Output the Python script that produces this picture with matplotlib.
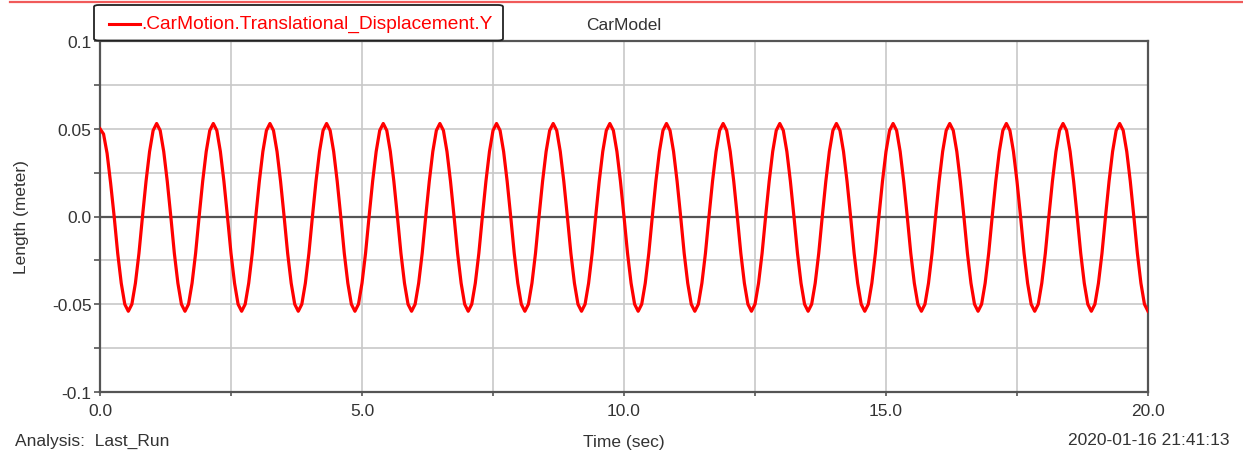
import numpy as np
import matplotlib.pyplot as plt
from matplotlib.lines import Line2D
from matplotlib.patches import FancyBboxPatch
from matplotlib.ticker import MultipleLocator

plt.rcParams['font.family'] = ['Liberation Sans', 'DejaVu Sans']

# CarMotion.Translational_Displacement.Y (16 samples per cycle, 0..20 s)
disp_y = [
    0.050, 0.047, 0.036, 0.019, 0.000, -0.021, -0.038, -0.050, -0.054, -0.050, -0.038, -0.021, 0.000, 0.020, 0.037, 0.049,
    0.053, 0.049, 0.037, 0.020, 0.000, -0.021, -0.038, -0.050, -0.054, -0.050, -0.038, -0.021, 0.000, 0.020, 0.037, 0.049,
    0.053, 0.049, 0.037, 0.020, 0.000, -0.021, -0.038, -0.050, -0.054, -0.050, -0.038, -0.021, 0.000, 0.020, 0.037, 0.049,
    0.053, 0.049, 0.037, 0.020, 0.000, -0.021, -0.038, -0.050, -0.054, -0.050, -0.038, -0.021, 0.000, 0.020, 0.037, 0.049,
    0.053, 0.049, 0.037, 0.020, 0.000, -0.021, -0.038, -0.050, -0.054, -0.050, -0.038, -0.021, 0.000, 0.020, 0.037, 0.049,
    0.053, 0.049, 0.037, 0.020, 0.000, -0.021, -0.038, -0.050, -0.054, -0.050, -0.038, -0.021, 0.000, 0.020, 0.037, 0.049,
    0.053, 0.049, 0.037, 0.020, 0.000, -0.021, -0.038, -0.050, -0.054, -0.050, -0.038, -0.021, 0.000, 0.020, 0.037, 0.049,
    0.053, 0.049, 0.037, 0.020, 0.000, -0.021, -0.038, -0.050, -0.054, -0.050, -0.038, -0.021, 0.000, 0.020, 0.037, 0.049,
    0.053, 0.049, 0.037, 0.020, 0.000, -0.021, -0.038, -0.050, -0.054, -0.050, -0.038, -0.021, 0.000, 0.020, 0.037, 0.049,
    0.053, 0.049, 0.037, 0.020, 0.000, -0.021, -0.038, -0.050, -0.054, -0.050, -0.038, -0.021, 0.000, 0.020, 0.037, 0.049,
    0.053, 0.049, 0.037, 0.020, 0.000, -0.021, -0.038, -0.050, -0.054, -0.050, -0.038, -0.021, 0.000, 0.020, 0.037, 0.049,
    0.053, 0.049, 0.037, 0.020, 0.000, -0.021, -0.038, -0.050, -0.054, -0.050, -0.038, -0.021, 0.000, 0.020, 0.037, 0.049,
    0.053, 0.049, 0.037, 0.020, 0.000, -0.021, -0.038, -0.050, -0.054, -0.050, -0.038, -0.021, 0.000, 0.020, 0.037, 0.049,
    0.053, 0.049, 0.037, 0.020, 0.000, -0.021, -0.038, -0.050, -0.054, -0.050, -0.038, -0.021, 0.000, 0.020, 0.037, 0.049,
    0.053, 0.049, 0.037, 0.020, 0.000, -0.021, -0.038, -0.050, -0.054, -0.050, -0.038, -0.021, 0.000, 0.020, 0.037, 0.049,
    0.053, 0.049, 0.037, 0.020, 0.000, -0.021, -0.038, -0.050, -0.054, -0.050, -0.038, -0.021, 0.000, 0.020, 0.037, 0.049,
    0.053, 0.049, 0.037, 0.020, 0.000, -0.021, -0.038, -0.050, -0.054, -0.050, -0.038, -0.021, 0.000, 0.020, 0.037, 0.049,
    0.053, 0.049, 0.037, 0.020, 0.000, -0.021, -0.038, -0.050, -0.054, -0.050, -0.038, -0.021, 0.000, 0.020, 0.037, 0.049,
    0.053, 0.049, 0.037, 0.020, 0.000, -0.021, -0.038, -0.050, -0.054,
]
time_sec = np.linspace(0.0, 20.0, len(disp_y))

series_name = '.CarMotion.Translational_Displacement.Y'
x_ticks = [0.0, 5.0, 10.0, 15.0, 20.0]
x_labels = ['0.0', '5.0', '10.0', '15.0', '20.0']
y_ticks = [-0.1, -0.05, 0.0, 0.05, 0.1]
y_labels = ['-0.1', '-0.05', '0.0', '0.05', '0.1']

txt = '#333333'
axc = '#555555'

fig = plt.figure(figsize=(12.43, 4.56), dpi=100)
ax = fig.add_axes([100 / 1243, 1 - 393 / 456, 1048 / 1243, 351 / 456])

ax.plot(time_sec, disp_y, color='#ff0000', lw=2.3, solid_joinstyle='round', zorder=4)
ax.axhline(0.0, color=axc, lw=1.6, zorder=3)

ax.set_xlim(0, 20)
ax.set_ylim(-0.1, 0.1)
ax.set_xticks(x_ticks)
ax.set_xticklabels(x_labels)
ax.set_yticks(y_ticks)
ax.set_yticklabels(y_labels)
ax.xaxis.set_minor_locator(MultipleLocator(2.5))
ax.yaxis.set_minor_locator(MultipleLocator(0.025))
ax.grid(True, which='both', color='#c8c8c8', lw=1.2, zorder=0)
ax.set_axisbelow(True)

for s in ax.spines.values():
    s.set_color(axc)
    s.set_linewidth(1.6)
ax.tick_params(axis='both', which='both', direction='out', color=axc, width=1.2,
               labelsize=12.5, labelcolor=txt)
ax.tick_params(axis='y', which='both', length=4, pad=2)
ax.tick_params(axis='x', which='both', length=3, pad=5)

ax.set_ylabel('Length (meter)', fontsize=12.5, color=txt)
ax.yaxis.set_label_coords(-0.0677, 0.5)
ax.set_xlabel('Time (sec)', fontsize=12.5, color=txt)
ax.xaxis.set_label_coords(0.5, -0.12)
ax.set_title('CarModel', fontsize=12.5, color=txt, pad=9)

fig.text(15 / 1243, 1 - 441 / 456, 'Analysis:  Last_Run', fontsize=12.5, color=txt,
         ha='left', va='center')
fig.text(1229 / 1243, 1 - 441 / 456, '2020-01-16 21:41:13', fontsize=12.5, color=txt,
         ha='right', va='center')

# red strip along the top of the window
fig.add_artist(Line2D([10 / 1243, 1.0], [1 - 3 / 456, 1 - 3 / 456],
                      transform=fig.transFigure, color='#f05a5a', lw=1.6))

# legend box
fig.add_artist(FancyBboxPatch((94 / 1243, 1 - 41.5 / 456), 409 / 1243, 35.5 / 456,
                              boxstyle='round,pad=0,rounding_size=0.004',
                              transform=fig.transFigure, facecolor='white',
                              edgecolor='#222222', lw=1.3))
fig.add_artist(Line2D([109 / 1243, 140 / 1243], [1 - 24.5 / 456, 1 - 24.5 / 456],
                      transform=fig.transFigure, color='#ff0000', lw=2.2))
fig.text(141 / 1243, 1 - 24 / 456, series_name, fontsize=13.8, color='#ff0000',
         ha='left', va='center')

fig.savefig('out.png', dpi=100)
